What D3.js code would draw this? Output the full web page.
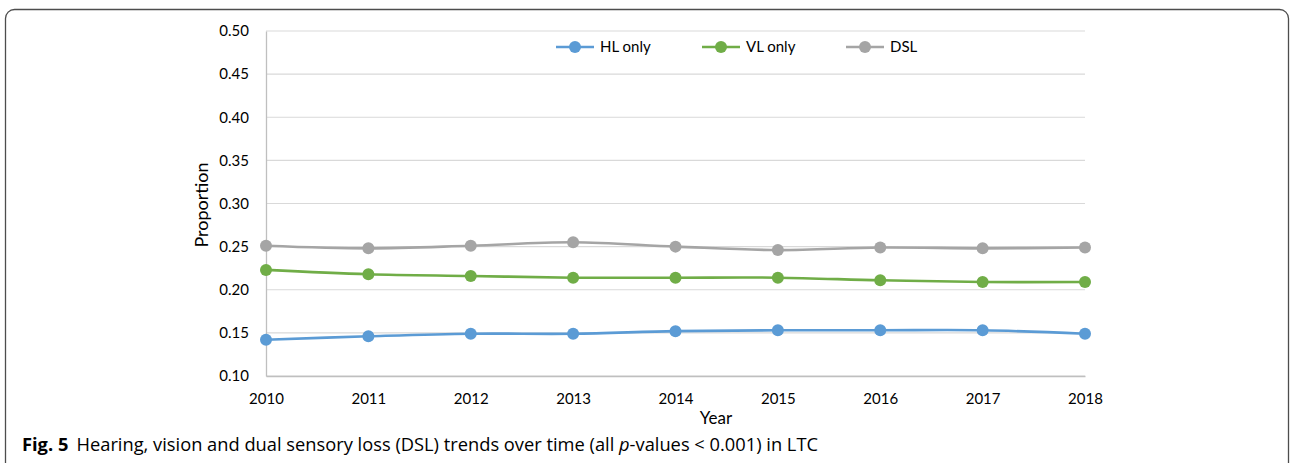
<!DOCTYPE html>
<html>

<head>
    <meta charset="utf-8">
    <script src="https://d3js.org/d3.v7.min.js"></script>
    <style>
        body { margin: 0; background: #fff; }
        text { font-family: Lato, "Open Sans", sans-serif; fill: #000; }
    </style>
</head>

<body>
    <svg id="chart" width="1290" height="463"></svg>

    <script>
        // data
        var years = [2010, 2011, 2012, 2013, 2014, 2015, 2016, 2017, 2018];
        var hlOnly = [0.142, 0.146, 0.149, 0.149, 0.152, 0.153, 0.153, 0.153, 0.149];
        var vlOnly = [0.223, 0.218, 0.216, 0.214, 0.214, 0.214, 0.211, 0.209, 0.209];
        var dsl = [0.251, 0.248, 0.251, 0.255, 0.250, 0.246, 0.249, 0.248, 0.249];
        var yTicks = [0.10, 0.15, 0.20, 0.25, 0.30, 0.35, 0.40, 0.45, 0.50];
        var seriesNames = ["HL only", "VL only", "DSL"];
        var seriesColors = ["#5b9bd5", "#70ad47", "#a5a5a5"];

        var series = [hlOnly, vlOnly, dsl].map(function (vals, i) {
            return { name: seriesNames[i], color: seriesColors[i], values: vals };
        });

        var svg = d3.select("#chart");

        // figure frame (rounded box, runs off the bottom)
        svg.append("rect")
            .attr("x", 5.5).attr("y", 9.5)
            .attr("width", 1283).attr("height", 480)
            .attr("rx", 9)
            .attr("fill", "none")
            .attr("stroke", "#4d4d4d")
            .attr("stroke-width", 1.3);

        var x = d3.scalePoint().domain(years).range([266, 1085]);
        var y = d3.scaleLinear().domain([0.10, 0.50]).range([376, 31]);

        // grid
        svg.append("g")
            .selectAll("line")
            .data(yTicks)
            .join("line")
            .attr("x1", 266).attr("x2", 1085)
            .attr("y1", d => y(d)).attr("y2", d => y(d))
            .attr("stroke", "#d9d9d9")
            .attr("stroke-width", 1.2);

        // y axis
        var yAxis = svg.append("g")
            .attr("transform", "translate(266,0)")
            .call(d3.axisLeft(y).tickValues(yTicks).tickFormat(d3.format(".2f")).tickSize(0).tickPadding(17));
        yAxis.select(".domain").attr("stroke", "#bfbfbf").attr("stroke-width", 1.3);
        yAxis.selectAll("text").style("font-size", "15px").attr("fill", "#000");

        // x axis
        var xAxis = svg.append("g")
            .attr("transform", "translate(0,376)")
            .call(d3.axisBottom(x).tickSize(0).tickPadding(17).tickFormat(d3.format("d")));
        xAxis.select(".domain").attr("stroke", "#bfbfbf").attr("stroke-width", 1.3);
        xAxis.selectAll("text").style("font-size", "15px").attr("fill", "#000");

        // axis titles
        svg.append("text")
            .attr("transform", "translate(208,205) rotate(-90)")
            .attr("text-anchor", "middle")
            .style("font-size", "18px")
            .text("Proportion");
        svg.append("text")
            .attr("x", 716).attr("y", 424)
            .attr("text-anchor", "middle")
            .style("font-size", "17px")
            .text("Year");

        // lines + markers
        var line = d3.line()
            .x((d, i) => x(years[i]))
            .y(d => y(d))
            .curve(d3.curveCatmullRom.alpha(0.5));

        var g = svg.append("g");
        series.forEach(function (s) {
            g.append("path")
                .attr("d", line(s.values))
                .attr("fill", "none")
                .attr("stroke", s.color)
                .attr("stroke-width", 2.6);
            g.selectAll(null)
                .data(s.values)
                .join("circle")
                .attr("cx", (d, i) => x(years[i]))
                .attr("cy", d => y(d))
                .attr("r", 6)
                .attr("fill", s.color);
        });

        // legend
        var legendX = [556, 702, 846];
        var legend = svg.append("g");
        series.forEach(function (s, i) {
            var lx = legendX[i];
            legend.append("line")
                .attr("x1", lx).attr("x2", lx + 38)
                .attr("y1", 47).attr("y2", 47)
                .attr("stroke", s.color).attr("stroke-width", 2.6);
            legend.append("circle")
                .attr("cx", lx + 19).attr("cy", 47).attr("r", 6)
                .attr("fill", s.color);
            legend.append("text")
                .attr("x", lx + 44).attr("y", 47)
                .attr("dy", "0.35em")
                .style("font-size", "15px")
                .text(s.name);
        });

        // caption
        var cap = svg.append("text")
            .attr("x", 22).attr("y", 451)
            .style("font-family", "'Open Sans', sans-serif")
            .style("font-size", "18px")
            .attr("textLength", 796)
            .attr("lengthAdjust", "spacingAndGlyphs");
        cap.append("tspan").style("font-weight", "bold").text("Fig. 5");
        cap.append("tspan").attr("dx", 8).text("Hearing, vision and dual sensory loss (DSL) trends over time (all ");
        cap.append("tspan").style("font-style", "italic").text("p");
        cap.append("tspan").text("-values < 0.001) in LTC");
    </script>
</body>

</html>
